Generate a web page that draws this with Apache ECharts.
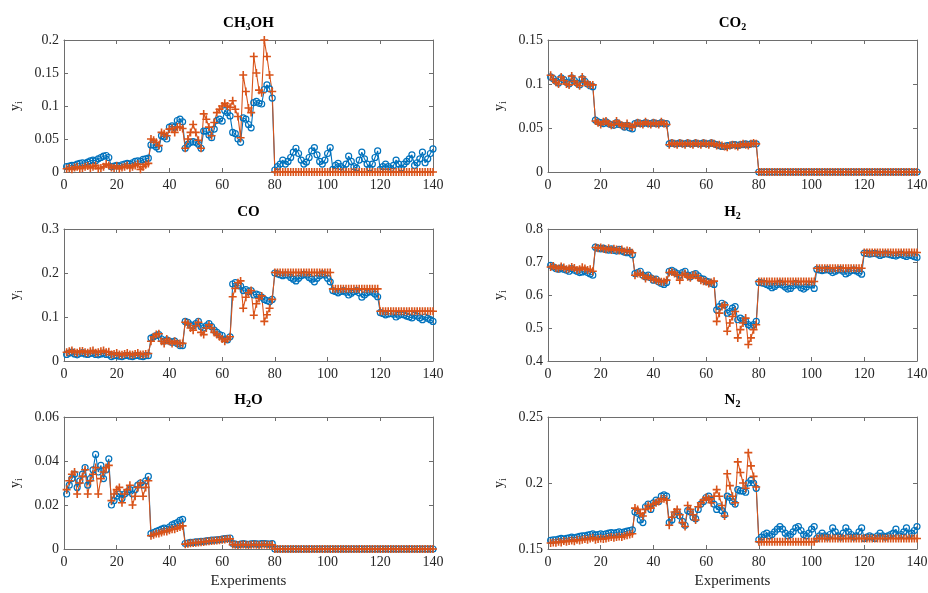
<!DOCTYPE html>
<html>
<head>
<meta charset="utf-8">
<script src="https://cdn.jsdelivr.net/npm/echarts/dist/echarts.min.js"></script>
<style>
html, body { margin: 0; background: #fff; }
#chart { width: 928px; height: 593px; }
</style>
</head>
<body>
<div id="chart"></div>
<script>
// experiment blocks: 1-17, 18-32, 33-45, 46-63, 64-79, 80-101, 102-119, 120-140
const ch3ohMeas = [
  0.008, 0.009, 0.010, 0.010, 0.012, 0.013, 0.014, 0.013, 0.015, 0.017, 0.018, 0.017, 0.020, 0.022, 0.024, 0.025, 0.022,
  0.008, 0.009, 0.010, 0.009, 0.011, 0.012, 0.013, 0.012, 0.014, 0.016, 0.017, 0.016, 0.019, 0.020, 0.021,
  0.041, 0.041, 0.038, 0.035, 0.055, 0.053, 0.050, 0.068, 0.070, 0.068, 0.078, 0.080, 0.076,
  0.036, 0.042, 0.045, 0.046, 0.045, 0.042, 0.036, 0.062, 0.062, 0.056, 0.052, 0.065, 0.078, 0.080, 0.077, 0.093, 0.090, 0.085,
  0.060, 0.058, 0.050, 0.045, 0.082, 0.080, 0.072, 0.067, 0.105, 0.107, 0.104, 0.103, 0.125, 0.132, 0.126, 0.112,
  0.003, 0.008, 0.012, 0.018, 0.012, 0.016, 0.022, 0.030, 0.036, 0.028, 0.018, 0.012, 0.015, 0.022, 0.032, 0.037, 0.026, 0.016, 0.012, 0.018, 0.028, 0.037,
  0.004, 0.010, 0.013, 0.008, 0.005, 0.012, 0.024, 0.016, 0.008, 0.006, 0.018, 0.030, 0.020, 0.012, 0.006, 0.012, 0.022, 0.032,
  0.004, 0.008, 0.012, 0.008, 0.005, 0.010, 0.018, 0.012, 0.006, 0.012, 0.016, 0.020, 0.026, 0.010, 0.014, 0.020, 0.030, 0.014, 0.020, 0.028, 0.035
];
const ch3ohPred = [
  0.005, 0.006, 0.004, 0.007, 0.008, 0.005, 0.006, 0.008, 0.009, 0.006, 0.008, 0.010, 0.005, 0.006, 0.008, 0.012, 0.010,
  0.007, 0.006, 0.009, 0.005, 0.007, 0.008, 0.010, 0.006, 0.008, 0.010, 0.012, 0.004, 0.008, 0.011, 0.013,
  0.050, 0.048, 0.045, 0.040, 0.060, 0.058, 0.055, 0.065, 0.066, 0.060, 0.068, 0.068, 0.066,
  0.036, 0.050, 0.060, 0.072, 0.060, 0.048, 0.036, 0.088, 0.080, 0.068, 0.055, 0.075, 0.090, 0.095, 0.100, 0.104, 0.100, 0.098,
  0.108, 0.095, 0.084, 0.052, 0.147, 0.122, 0.097, 0.090, 0.175, 0.150, 0.124, 0.120, 0.200, 0.175, 0.147, 0.122,
  0, 0, 0, 0, 0, 0, 0, 0, 0, 0, 0, 0, 0, 0, 0, 0, 0, 0, 0, 0, 0, 0,
  0, 0, 0, 0, 0, 0, 0, 0, 0, 0, 0, 0, 0, 0, 0, 0, 0, 0,
  0, 0, 0, 0, 0, 0, 0, 0, 0, 0, 0, 0, 0, 0, 0, 0, 0, 0, 0, 0, 0
];
const co2Meas = [
  0.108, 0.106, 0.103, 0.101, 0.107, 0.105, 0.102, 0.100, 0.107, 0.104, 0.101, 0.099, 0.106, 0.103, 0.100, 0.098, 0.097,
  0.059, 0.057, 0.056, 0.055, 0.057, 0.055, 0.054, 0.053, 0.056, 0.054, 0.053, 0.051, 0.053, 0.050, 0.049,
  0.055, 0.056, 0.055, 0.055, 0.056, 0.055, 0.055, 0.056, 0.055, 0.055, 0.056, 0.055, 0.055,
  0.032, 0.033, 0.032, 0.032, 0.033, 0.032, 0.032, 0.033, 0.032, 0.032, 0.033, 0.032, 0.032, 0.033, 0.032, 0.032, 0.033, 0.032,
  0.031, 0.030, 0.029, 0.029, 0.030, 0.030, 0.031, 0.031, 0.030, 0.031, 0.031, 0.032, 0.031, 0.032, 0.032, 0.032,
  0, 0, 0, 0, 0, 0, 0, 0, 0, 0, 0, 0, 0, 0, 0, 0, 0, 0, 0, 0, 0, 0,
  0, 0, 0, 0, 0, 0, 0, 0, 0, 0, 0, 0, 0, 0, 0, 0, 0, 0,
  0, 0, 0, 0, 0, 0, 0, 0, 0, 0, 0, 0, 0, 0, 0, 0, 0, 0, 0, 0, 0
];
const co2Pred = [
  0.110, 0.105, 0.102, 0.100, 0.108, 0.104, 0.100, 0.099, 0.109, 0.103, 0.100, 0.098, 0.108, 0.102, 0.100, 0.099, 0.099,
  0.058, 0.056, 0.054, 0.057, 0.058, 0.055, 0.053, 0.054, 0.058, 0.055, 0.053, 0.052, 0.055, 0.052, 0.051,
  0.054, 0.056, 0.055, 0.054, 0.057, 0.055, 0.054, 0.056, 0.055, 0.054, 0.057, 0.055, 0.054,
  0.031, 0.033, 0.032, 0.031, 0.033, 0.032, 0.031, 0.033, 0.032, 0.031, 0.033, 0.032, 0.031, 0.033, 0.032, 0.031, 0.033, 0.032,
  0.030, 0.031, 0.030, 0.029, 0.028, 0.030, 0.031, 0.030, 0.029, 0.031, 0.032, 0.031, 0.030, 0.032, 0.033, 0.032,
  0, 0, 0, 0, 0, 0, 0, 0, 0, 0, 0, 0, 0, 0, 0, 0, 0, 0, 0, 0, 0, 0,
  0, 0, 0, 0, 0, 0, 0, 0, 0, 0, 0, 0, 0, 0, 0, 0, 0, 0,
  0, 0, 0, 0, 0, 0, 0, 0, 0, 0, 0, 0, 0, 0, 0, 0, 0, 0, 0, 0, 0
];
const coMeas = [
  0.015, 0.018, 0.020, 0.016, 0.014, 0.017, 0.019, 0.016, 0.015, 0.017, 0.018, 0.015, 0.014, 0.016, 0.018, 0.015, 0.014,
  0.010, 0.012, 0.013, 0.011, 0.010, 0.012, 0.013, 0.011, 0.010, 0.012, 0.013, 0.011, 0.010, 0.012, 0.012,
  0.052, 0.055, 0.058, 0.060, 0.050, 0.045, 0.048, 0.045, 0.042, 0.045, 0.040, 0.035, 0.035,
  0.090, 0.088, 0.082, 0.080, 0.085, 0.090, 0.078, 0.075, 0.080, 0.085, 0.078, 0.070, 0.065, 0.060, 0.058, 0.050, 0.048, 0.055,
  0.175, 0.178, 0.172, 0.170, 0.160, 0.162, 0.158, 0.160, 0.150, 0.152, 0.150, 0.145, 0.140, 0.137, 0.135, 0.140,
  0.200, 0.198, 0.196, 0.194, 0.196, 0.195, 0.190, 0.186, 0.182, 0.188, 0.194, 0.197, 0.195, 0.190, 0.186, 0.180, 0.188, 0.194, 0.198, 0.195, 0.188, 0.180,
  0.160, 0.158, 0.155, 0.158, 0.160, 0.156, 0.150, 0.154, 0.158, 0.160, 0.155, 0.145, 0.150, 0.155, 0.158, 0.156, 0.152, 0.146,
  0.110, 0.108, 0.105, 0.107, 0.108, 0.106, 0.100, 0.104, 0.106, 0.105, 0.102, 0.100, 0.098, 0.104, 0.102, 0.098, 0.094, 0.100, 0.097, 0.094, 0.090
];
const coPred = [
  0.020, 0.022, 0.024, 0.020, 0.019, 0.022, 0.023, 0.020, 0.019, 0.022, 0.024, 0.019, 0.020, 0.022, 0.024, 0.020, 0.021,
  0.015, 0.016, 0.018, 0.015, 0.014, 0.016, 0.018, 0.015, 0.014, 0.016, 0.018, 0.015, 0.015, 0.016, 0.017,
  0.045, 0.055, 0.060, 0.062, 0.045, 0.040, 0.050, 0.045, 0.040, 0.045, 0.040, 0.040, 0.040,
  0.088, 0.085, 0.075, 0.070, 0.080, 0.088, 0.065, 0.060, 0.075, 0.082, 0.075, 0.065, 0.060, 0.055, 0.050, 0.045, 0.050, 0.055,
  0.146, 0.165, 0.178, 0.182, 0.120, 0.145, 0.155, 0.160, 0.104, 0.130, 0.142, 0.148, 0.090, 0.105, 0.120, 0.140,
  0.201, 0.201, 0.201, 0.201, 0.201, 0.201, 0.201, 0.201, 0.201, 0.201, 0.201, 0.201, 0.201, 0.201, 0.201, 0.201, 0.201, 0.201, 0.201, 0.201, 0.201, 0.201,
  0.164, 0.164, 0.164, 0.164, 0.164, 0.164, 0.164, 0.164, 0.164, 0.164, 0.164, 0.164, 0.164, 0.164, 0.164, 0.164, 0.164, 0.164,
  0.113, 0.113, 0.113, 0.113, 0.113, 0.113, 0.113, 0.113, 0.113, 0.113, 0.113, 0.113, 0.113, 0.113, 0.113, 0.113, 0.113, 0.113, 0.113, 0.113, 0.113
];
const h2Meas = [
  0.690, 0.685, 0.680, 0.678, 0.682, 0.678, 0.675, 0.672, 0.680, 0.675, 0.672, 0.668, 0.670, 0.674, 0.668, 0.664, 0.660,
  0.745, 0.742, 0.740, 0.742, 0.738, 0.736, 0.740, 0.735, 0.733, 0.738, 0.733, 0.730, 0.728, 0.730, 0.722,
  0.665, 0.668, 0.672, 0.660, 0.655, 0.660, 0.652, 0.645, 0.648, 0.640, 0.635, 0.632, 0.638,
  0.672, 0.675, 0.670, 0.665, 0.660, 0.668, 0.672, 0.660, 0.655, 0.662, 0.665, 0.658, 0.650, 0.648, 0.642, 0.640, 0.635, 0.632,
  0.555, 0.565, 0.575, 0.570, 0.545, 0.550, 0.560, 0.565, 0.525, 0.530, 0.525, 0.520, 0.510, 0.505, 0.510, 0.520,
  0.638, 0.637, 0.635, 0.632, 0.628, 0.622, 0.626, 0.632, 0.636, 0.630, 0.624, 0.618, 0.620, 0.628, 0.635, 0.630, 0.622, 0.618, 0.624, 0.632, 0.630, 0.620,
  0.678, 0.676, 0.674, 0.676, 0.678, 0.674, 0.668, 0.672, 0.676, 0.677, 0.672, 0.664, 0.668, 0.674, 0.676, 0.673, 0.668, 0.663,
  0.727, 0.726, 0.724, 0.725, 0.726, 0.724, 0.720, 0.723, 0.725, 0.724, 0.722, 0.720, 0.718, 0.722, 0.724, 0.720, 0.717, 0.722, 0.720, 0.716, 0.714
];
const h2Pred = [
  0.685, 0.688, 0.682, 0.680, 0.686, 0.683, 0.678, 0.680, 0.685, 0.682, 0.676, 0.678, 0.684, 0.680, 0.676, 0.678, 0.672,
  0.744, 0.742, 0.744, 0.740, 0.738, 0.742, 0.736, 0.740, 0.738, 0.735, 0.738, 0.732, 0.735, 0.733, 0.728,
  0.660, 0.665, 0.665, 0.660, 0.650, 0.655, 0.650, 0.648, 0.645, 0.642, 0.640, 0.640, 0.645,
  0.668, 0.670, 0.665, 0.660, 0.645, 0.660, 0.665, 0.655, 0.652, 0.660, 0.660, 0.652, 0.645, 0.642, 0.640, 0.635, 0.638, 0.642,
  0.520, 0.545, 0.565, 0.570, 0.490, 0.515, 0.535, 0.550, 0.470, 0.495, 0.515, 0.530, 0.450, 0.470, 0.495, 0.510,
  0.641, 0.641, 0.641, 0.641, 0.641, 0.641, 0.641, 0.641, 0.641, 0.641, 0.641, 0.641, 0.641, 0.641, 0.641, 0.641, 0.641, 0.641, 0.641, 0.641, 0.641, 0.641,
  0.681, 0.681, 0.681, 0.681, 0.681, 0.681, 0.681, 0.681, 0.681, 0.681, 0.681, 0.681, 0.681, 0.681, 0.681, 0.681, 0.681, 0.681,
  0.729, 0.729, 0.729, 0.729, 0.729, 0.729, 0.729, 0.729, 0.729, 0.729, 0.729, 0.729, 0.729, 0.729, 0.729, 0.729, 0.729, 0.729, 0.729, 0.729, 0.729
];
const h2oMeas = [
  0.025, 0.029, 0.032, 0.034, 0.028, 0.031, 0.034, 0.037, 0.029, 0.032, 0.036, 0.043, 0.035, 0.038, 0.032, 0.036, 0.041,
  0.020, 0.022, 0.024, 0.025, 0.023, 0.025, 0.026, 0.027, 0.025, 0.027, 0.029, 0.030, 0.029, 0.031, 0.033,
  0.0070, 0.0075, 0.0080, 0.0085, 0.0090, 0.0095, 0.0090, 0.0100, 0.0110, 0.0115, 0.0120, 0.0130, 0.0135,
  0.0025, 0.0027, 0.0030, 0.0030, 0.0032, 0.0033, 0.0035, 0.0035, 0.0037, 0.0038, 0.0040, 0.0040, 0.0042, 0.0043, 0.0045, 0.0047, 0.0048, 0.0050,
  0.0025, 0.0022, 0.0020, 0.0022, 0.0024, 0.0022, 0.0021, 0.0023, 0.0025, 0.0023, 0.0022, 0.0024, 0.0025, 0.0023, 0.0022, 0.0024,
  0, 0, 0, 0, 0, 0, 0, 0, 0, 0, 0, 0, 0, 0, 0, 0, 0, 0, 0, 0, 0, 0,
  0, 0, 0, 0, 0, 0, 0, 0, 0, 0, 0, 0, 0, 0, 0, 0, 0, 0,
  0, 0, 0, 0, 0, 0, 0, 0, 0, 0, 0, 0, 0, 0, 0, 0, 0, 0, 0, 0, 0
];
const h2oPred = [
  0.027, 0.031, 0.034, 0.035, 0.025, 0.030, 0.033, 0.036, 0.025, 0.031, 0.034, 0.037, 0.025, 0.032, 0.035, 0.037, 0.038,
  0.022, 0.025, 0.027, 0.028, 0.021, 0.025, 0.027, 0.029, 0.020, 0.024, 0.028, 0.030, 0.024, 0.028, 0.031,
  0.0060, 0.0065, 0.0070, 0.0070, 0.0075, 0.0080, 0.0080, 0.0085, 0.0090, 0.0090, 0.0095, 0.0100, 0.0105,
  0.0022, 0.0024, 0.0026, 0.0027, 0.0028, 0.0030, 0.0031, 0.0032, 0.0034, 0.0035, 0.0036, 0.0038, 0.0039, 0.0040, 0.0042, 0.0043, 0.0045, 0.0046,
  0.0020, 0.0019, 0.0018, 0.0019, 0.0020, 0.0019, 0.0018, 0.0019, 0.0020, 0.0019, 0.0018, 0.0019, 0.0020, 0.0019, 0.0018, 0.0019,
  0, 0, 0, 0, 0, 0, 0, 0, 0, 0, 0, 0, 0, 0, 0, 0, 0, 0, 0, 0, 0, 0,
  0, 0, 0, 0, 0, 0, 0, 0, 0, 0, 0, 0, 0, 0, 0, 0, 0, 0,
  0, 0, 0, 0, 0, 0, 0, 0, 0, 0, 0, 0, 0, 0, 0, 0, 0, 0, 0, 0, 0
];
const n2Meas = [
  0.1565, 0.1570, 0.1570, 0.1575, 0.1580, 0.1575, 0.1580, 0.1585, 0.1590, 0.1585, 0.1590, 0.1595, 0.1600, 0.1600, 0.1605, 0.1610, 0.1615,
  0.1605, 0.1610, 0.1615, 0.1610, 0.1615, 0.1620, 0.1625, 0.1620, 0.1625, 0.1630, 0.1625, 0.1630, 0.1635, 0.1640, 0.1645,
  0.178, 0.177, 0.172, 0.170, 0.182, 0.184, 0.180, 0.185, 0.187, 0.186, 0.190, 0.191, 0.190,
  0.170, 0.172, 0.176, 0.178, 0.175, 0.171, 0.168, 0.179, 0.178, 0.174, 0.173, 0.180, 0.184, 0.186, 0.189, 0.190, 0.187, 0.184,
  0.180, 0.182, 0.179, 0.176, 0.190, 0.189, 0.186, 0.184, 0.195, 0.194, 0.194, 0.193, 0.200, 0.202, 0.200, 0.196,
  0.157, 0.159, 0.161, 0.162, 0.160, 0.161, 0.163, 0.165, 0.167, 0.165, 0.162, 0.160, 0.161, 0.163, 0.166, 0.167, 0.164, 0.161, 0.160, 0.162, 0.165, 0.167,
  0.158, 0.160, 0.162, 0.160, 0.159, 0.161, 0.166, 0.163, 0.160, 0.159, 0.162, 0.166, 0.163, 0.161, 0.159, 0.160, 0.163, 0.166,
  0.158, 0.159, 0.160, 0.159, 0.158, 0.160, 0.162, 0.160, 0.159, 0.160, 0.161, 0.162, 0.165, 0.160, 0.161, 0.163, 0.166, 0.161, 0.162, 0.164, 0.167
];
const n2Pred = [
  0.1545, 0.1550, 0.1548, 0.1555, 0.1550, 0.1560, 0.1555, 0.1560, 0.1565, 0.1558, 0.1570, 0.1565, 0.1570, 0.1575, 0.1570, 0.1580, 0.1585,
  0.1570, 0.1575, 0.1580, 0.1575, 0.1580, 0.1585, 0.1590, 0.1585, 0.1590, 0.1595, 0.1590, 0.1600, 0.1605, 0.1610, 0.1615,
  0.181, 0.180, 0.177, 0.175, 0.180, 0.183, 0.181, 0.184, 0.185, 0.186, 0.188, 0.188, 0.187,
  0.168, 0.174, 0.178, 0.180, 0.176, 0.170, 0.167, 0.183, 0.180, 0.176, 0.172, 0.182, 0.185, 0.187, 0.189, 0.188, 0.185, 0.190,
  0.195, 0.190, 0.183, 0.175, 0.207, 0.198, 0.190, 0.185, 0.216, 0.208, 0.200, 0.196, 0.223, 0.213, 0.205, 0.197,
  0.1555, 0.1555, 0.1555, 0.1555, 0.1555, 0.1555, 0.1555, 0.1555, 0.1555, 0.1555, 0.1555, 0.1555, 0.1555, 0.1555, 0.1555, 0.1555, 0.1555, 0.1555, 0.1555, 0.1555, 0.1555, 0.1555,
  0.158, 0.158, 0.158, 0.158, 0.158, 0.158, 0.158, 0.158, 0.158, 0.158, 0.158, 0.158, 0.158, 0.158, 0.158, 0.158, 0.158, 0.158,
  0.158, 0.158, 0.158, 0.158, 0.158, 0.158, 0.158, 0.158, 0.158, 0.158, 0.158, 0.158, 0.158, 0.158, 0.158, 0.158, 0.158, 0.158, 0.158, 0.158, 0.158
];

const FONT = 'Liberation Serif';
const AXIS = '#6e6e6e';
const TEXT = '#262626';
const BLUE = '#0072BD';
const ORANGE = '#D95319';
const colLeft = [64, 548];
const rowTop = [40, 229, 417];
const W = 369, H = 132;

const panels = [
  { title: '{b|CH}{s|3}{b|OH}', meas: ch3ohMeas, pred: ch3ohPred, min: 0, max: 0.2, step: 0.05, col: 0, row: 0 },
  { title: '{b|CO}{s|2}', meas: co2Meas, pred: co2Pred, min: 0, max: 0.15, step: 0.05, col: 1, row: 0 },
  { title: '{b|CO}', meas: coMeas, pred: coPred, min: 0, max: 0.3, step: 0.1, col: 0, row: 1 },
  { title: '{b|H}{s|2}', meas: h2Meas, pred: h2Pred, min: 0.4, max: 0.8, step: 0.1, col: 1, row: 1 },
  { title: '{b|H}{s|2}{b|O}', meas: h2oMeas, pred: h2oPred, min: 0, max: 0.06, step: 0.02, col: 0, row: 2 },
  { title: '{b|N}{s|2}', meas: n2Meas, pred: n2Pred, min: 0.15, max: 0.25, step: 0.05, col: 1, row: 2 }
];

const titleRich = {
  b: { fontFamily: FONT, fontWeight: 'bold', fontSize: 15, color: '#000', lineHeight: 20 },
  s: { fontFamily: FONT, fontWeight: 'bold', fontSize: 10, color: '#000', lineHeight: 10, padding: [9, 0, 0, 0] }
};
const ylabRich = {
  y: { fontFamily: FONT, fontSize: 14, color: TEXT, lineHeight: 18 },
  i: { fontFamily: FONT, fontSize: 10, color: TEXT, lineHeight: 10, padding: [8, 0, 0, 0] }
};

const grid = [], xAxis = [], yAxis = [], series = [], title = [];

panels.forEach((p, k) => {
  const left = colLeft[p.col];
  const top = rowTop[p.row];
  const isBottom = p.row === 2;
  grid.push({ left: left, top: top, width: W, height: H, outerBoundsMode: 'none' });

  const tick = { inside: true, length: 4, lineStyle: { color: AXIS, width: 1 } };
  const line = { show: true, onZero: false, lineStyle: { color: AXIS, width: 1 } };

  xAxis.push({
    type: 'value', gridIndex: k, min: 0, max: 140, interval: 20,
    axisLine: line, axisTick: tick, splitLine: { show: false },
    axisLabel: { color: TEXT, fontFamily: FONT, fontSize: 14, margin: 6 },
    name: isBottom ? 'Experiments' : '', nameLocation: 'middle', nameGap: 25,
    nameTextStyle: { color: TEXT, fontFamily: FONT, fontSize: 15 }
  });
  xAxis.push({
    type: 'value', gridIndex: k, position: 'top', min: 0, max: 140, interval: 20,
    axisLine: line, axisTick: tick, splitLine: { show: false }, axisLabel: { show: false }
  });
  yAxis.push({
    type: 'value', gridIndex: k, min: p.min, max: p.max, interval: p.step,
    axisLine: line, axisTick: tick, splitLine: { show: false },
    axisLabel: { color: TEXT, fontFamily: FONT, fontSize: 14, margin: 5 },
    name: '{y|y}{i|i}', nameLocation: 'middle', nameRotate: 90, nameGap: 40,
    nameTextStyle: { rich: ylabRich }
  });
  yAxis.push({
    type: 'value', gridIndex: k, position: 'right', min: p.min, max: p.max, interval: p.step,
    axisLine: line, axisTick: tick, splitLine: { show: false }, axisLabel: { show: false }
  });

  title.push({
    text: p.title, left: left + W / 2, top: top - 27, textAlign: 'center', padding: 0,
    textStyle: { rich: titleRich }
  });

  series.push({
    type: 'line', xAxisIndex: 2 * k, yAxisIndex: 2 * k,
    data: p.meas.map((v, i) => [i + 1, v]),
    symbol: 'circle', symbolSize: 6,
    itemStyle: { color: 'rgba(255,255,255,0)', borderColor: BLUE, borderWidth: 1.2 },
    lineStyle: { color: BLUE, width: 1.1 },
    emphasis: { disabled: true }, silent: true
  });
  series.push({
    type: 'line', xAxisIndex: 2 * k, yAxisIndex: 2 * k,
    data: p.pred.map((v, i) => [i + 1, v]),
    symbol: 'path://M4,0H6V4H10V6H6V10H4V6H0V4H4Z', symbolSize: 8,
    itemStyle: { color: ORANGE },
    lineStyle: { color: ORANGE, width: 1.1 },
    emphasis: { disabled: true }, silent: true
  });
});

const chart = echarts.init(document.getElementById('chart'));
chart.setOption({
  backgroundColor: '#fff',
  animation: false,
  title: title,
  grid: grid,
  xAxis: xAxis,
  yAxis: yAxis,
  series: series
});
</script>
</body>
</html>
